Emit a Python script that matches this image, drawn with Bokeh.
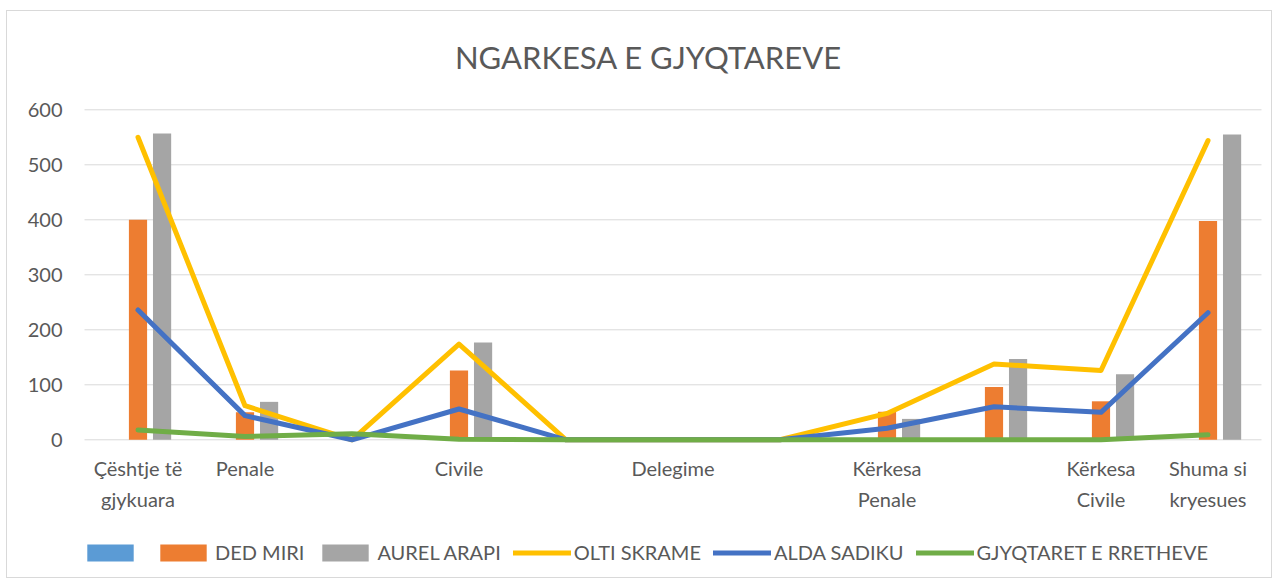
from bokeh.plotting import figure
from bokeh.models import ColumnDataSource, Legend, LegendItem, Label
from bokeh.transform import dodge
from bokeh.core.properties import value
from bokeh.embed import file_html
from bokeh.resources import INLINE

# ---- data ----
tick_labels = ["Çështje të\ngjykuara", "Penale", "", "Civile", "", "Delegime", "",
               "Kërkesa\nPenale", "", "Kërkesa\nCivile", "Shuma si\nkryesues"]
positions = [0, 1, 2, 3, 4, 5, 6, 7, 8, 9, 10]
series_blank = [0, 0, 0, 0, 0, 0, 0, 0, 0, 0, 0]
ded_miri = [400, 50, 0, 126, 0, 0, 0, 51, 96, 70, 398]
aurel_arapi = [557, 69, 0, 177, 0, 0, 0, 38, 147, 119, 555]
olti_skrame = [550, 62, 0, 174, 0, 0, 0, 48, 138, 126, 544]
alda_sadiku = [236, 44, 0, 56, 0, 0, 0, 21, 60, 50, 231]
gjyqtaret = [18, 6, 11, 1, 0, 0, 0, 0, 0, 0, 9]
y_ticks = [0, 100, 200, 300, 400, 500, 600]
y_tick_labels = ["0", "100", "200", "300", "400", "500", "600"]
title_text = "NGARKESA E GJYQTAREVE"

FONT = "Lato"
TXT = "#595959"
GRID = "#d9d9d9"

# ---- layout geometry (page pixels) ----
PX_L, PX_T, W, H = 7, 11, 1266, 568
plot_left, plot_right = 84, 1261
y0_px, ytop_px = 439.3, 109.3
cat_w = (plot_right - plot_left) / 11.0
ppu = (y0_px - ytop_px) / 600.0
x_start = -0.5 - (plot_left - PX_L) / cat_w
x_end = 10.5 + (PX_L + W - plot_right) / cat_w
y_start = -(PX_T + H - y0_px) / ppu
y_end = 600 + (ytop_px - PX_T) / ppu

src = ColumnDataSource(dict(x=positions, blank=series_blank, ded=ded_miri, aurel=aurel_arapi,
                            olti=olti_skrame, alda=alda_sadiku, gj=gjyqtaret))

p = figure(width=W, height=H, x_range=(x_start, x_end), y_range=(y_start, y_end),
           output_backend="svg", toolbar_location=None, min_border=0)
p.styles = {"border": "1px solid #d9d9d9", "margin-left": "6px", "margin-top": "10px"}
p.xaxis.visible = False
p.yaxis.visible = False
p.grid.visible = False
p.outline_line_color = None
p.background_fill_color = "white"
p.border_fill_color = "white"

# gridlines
n = len(y_ticks)
p.segment(x0=[-0.5] * n, x1=[10.5] * n, y0=y_ticks, y1=y_ticks, line_color=GRID, line_width=1)

# y tick labels
p.text(x=[-0.5] * n, y=y_ticks, text=y_tick_labels, x_offset=-22,
       text_align="right", text_baseline="middle", text_font=value(FONT),
       text_font_size="20px", text_color=TXT)

# category labels
p.text(x=positions, y=[0] * len(positions), text=tick_labels, y_offset=16,
       text_align="center", text_baseline="top", text_font=value(FONT),
       text_font_size="20px", text_color=TXT, text_line_height=1.3)

bw = 0.17
r_blank = p.vbar(x=dodge("x", -0.225), top="blank", width=bw, source=src,
                 fill_color="#5B9BD5", line_color=None)
r_ded = p.vbar(x=dodge("x", 0.0), top="ded", width=bw, source=src,
               fill_color="#ED7D31", line_color=None)
r_aurel = p.vbar(x=dodge("x", 0.225), top="aurel", width=bw, source=src,
                 fill_color="#A5A5A5", line_color=None)
r_olti = p.line("x", "olti", source=src, line_color="#FFC000", line_width=5,
                line_cap="round", line_join="round")
r_alda = p.line("x", "alda", source=src, line_color="#4472C4", line_width=5,
                line_cap="round", line_join="round")
r_gj = p.line("x", "gj", source=src, line_color="#70AD47", line_width=5,
              line_cap="round", line_join="round")

# title
title = Label(x=x_start + (648 - PX_L) / cat_w, y=(y0_px - 56) / ppu,
              text=title_text, text_font=FONT, text_font_size="31px",
              text_color=TXT, text_align="center", text_baseline="middle")
p.add_layout(title)

legend = Legend(items=[
    LegendItem(label="", renderers=[r_blank]),
    LegendItem(label="DED MIRI", renderers=[r_ded]),
    LegendItem(label="AUREL ARAPI", renderers=[r_aurel]),
    LegendItem(label="OLTI SKRAME", renderers=[r_olti]),
    LegendItem(label="ALDA SADIKU", renderers=[r_alda]),
    LegendItem(label="GJYQTARET E RRETHEVE", renderers=[r_gj]),
], orientation="horizontal", location=(74, 15))
legend.label_text_font = FONT
legend.label_text_font_size = "20px"
legend.label_text_color = TXT
legend.glyph_width = 58
legend.glyph_height = 21
legend.label_width = 0
legend.label_standoff = 3
legend.spacing = 12
legend.padding = 0
legend.margin = 0
legend.border_line_color = None
legend.background_fill_alpha = 0
p.add_layout(legend)

open("out.html", "w").write(file_html(p, INLINE))
